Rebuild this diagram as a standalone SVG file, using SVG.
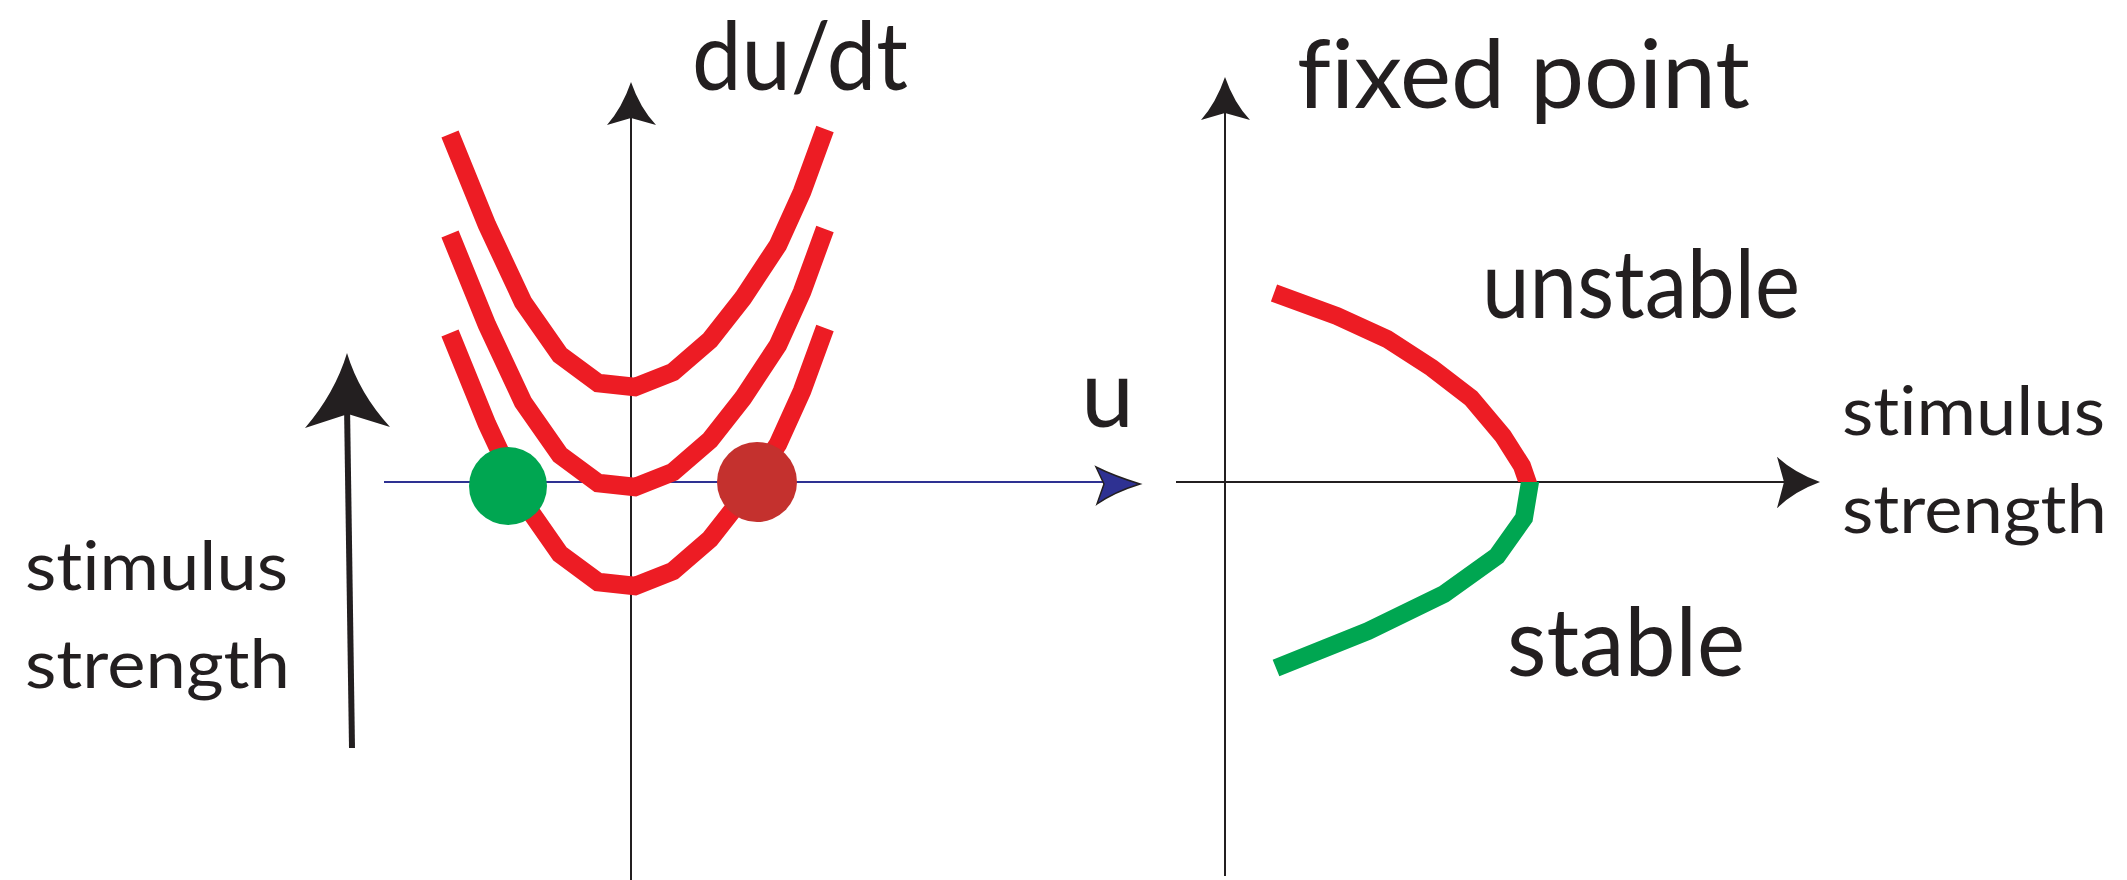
<svg xmlns="http://www.w3.org/2000/svg" xmlns:xlink="http://www.w3.org/1999/xlink" width="2127" height="880" viewBox="0 0 2127 880">
<style>
.lbl{font-family:Lato,"Open Sans","Liberation Sans",sans-serif;fill:#231f20;font-variant-ligatures:none;font-feature-settings:"liga" 0}
.big{font-size:95px}
.small{font-size:68px}
.axis{stroke:#231f20;stroke-width:2;fill:none}
.curve{fill:none;stroke:#ed1c24;stroke-width:18.5;stroke-linejoin:miter;stroke-linecap:butt}
.head{fill:#231f20}
</style>
<defs>
<path id="parab" d="M450,134 L487,225 L523,302 L560,355 L598,383 L635,387 L673,372 L710,340 L743,298 L778,245 L802,192 L825,129"/>
<path id="ahead" d="M0,0 Q-9,26 -24,43 L0,36 L25,43 Q9,26 0,0 Z"/>
<clipPath id="above"><rect x="1150" y="0" width="500" height="482"/></clipPath>
<clipPath id="below"><rect x="1150" y="482" width="500" height="398"/></clipPath>
</defs>
<rect width="2127" height="880" fill="#ffffff"/>

<g id="connectors">
  <!-- left graph axes -->
  <line class="axis" x1="631" y1="880" x2="631" y2="110"/>
  <use xlink:href="#ahead" href="#ahead" class="head" transform="translate(631,82)"/>
  <line x1="384" y1="482" x2="1104" y2="482" stroke="#2e3192" stroke-width="2"/>
  <path d="M1140,484 Q1114,476 1096,467 L1104,484 L1097,504 Q1114,492 1140,484 Z" fill="#2e3192" stroke="#231f20" stroke-width="1.5"/>
  <!-- stimulus arrow -->
  <line x1="352" y1="748" x2="347" y2="405" stroke="#231f20" stroke-width="6"/>
  <path class="head" d="M347,353 Q335,393 305,428 L348,414 L390,427 Q359,393 347,353 Z"/>
  <!-- right graph axes -->
  <line class="axis" x1="1225" y1="876" x2="1225" y2="105"/>
  <use xlink:href="#ahead" href="#ahead" class="head" transform="translate(1225,77)"/>
  <line class="axis" x1="1176" y1="482" x2="1790" y2="482"/>
  <use xlink:href="#ahead" href="#ahead" class="head" transform="translate(1820,482) rotate(90) scale(1.05,1)"/>
</g>

<g id="parabolas">
  <use xlink:href="#parab" href="#parab" class="curve"/>
  <use xlink:href="#parab" href="#parab" class="curve" transform="translate(0,100)"/>
  <use xlink:href="#parab" href="#parab" class="curve" transform="translate(0,199)"/>
</g>

<g id="fixed-points">
  <circle id="stable-point" cx="508" cy="486" r="39" fill="#00a651"/>
  <circle id="unstable-point" cx="757" cy="482" r="40" fill="#c4312e"/>
</g>

<g id="bifurcation">
  <polyline id="unstable-branch" clip-path="url(#above)" fill="none" stroke="#ed1c24" stroke-width="18" stroke-linejoin="miter"
    points="1274,293 1337,316 1387,339 1432,368 1471,398 1503,436 1522,466 1531,492"/>
  <polyline id="stable-branch" clip-path="url(#below)" fill="none" stroke="#00a651" stroke-width="18" stroke-linejoin="miter"
    points="1530,472 1530,482 1524,518 1497,556 1444,594 1368,631 1276,668"/>
</g>

<g id="labels">
  <text class="lbl big" x="692" y="90" textLength="216" lengthAdjust="spacingAndGlyphs">du/dt</text>
  <text class="lbl big" x="1081" y="427">u</text>
  <text class="lbl big" x="1297" y="108" textLength="453" lengthAdjust="spacingAndGlyphs">fixed point</text>
  <text class="lbl big" x="1482" y="318" textLength="318" lengthAdjust="spacingAndGlyphs">unstable</text>
  <text class="lbl big" x="1507" y="676" textLength="238" lengthAdjust="spacingAndGlyphs">stable</text>
  <text class="lbl small" x="1842" y="435" textLength="263" lengthAdjust="spacingAndGlyphs">stimulus</text>
  <text class="lbl small" x="1842" y="533" textLength="265" lengthAdjust="spacingAndGlyphs">strength</text>
  <text class="lbl small" x="25" y="590" textLength="263" lengthAdjust="spacingAndGlyphs">stimulus</text>
  <text class="lbl small" x="25" y="688" textLength="265" lengthAdjust="spacingAndGlyphs">strength</text>
</g>
</svg>
